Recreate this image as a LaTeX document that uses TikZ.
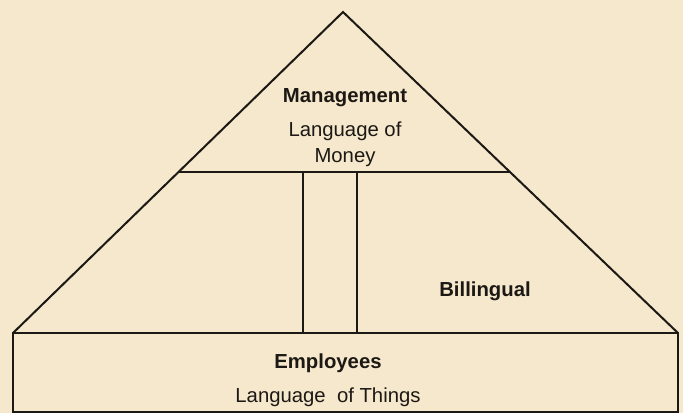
\documentclass[tikz,border=0pt]{standalone}
\usepackage{fontspec}
\setmainfont{Liberation Sans}
\usepackage{tikz}
\usetikzlibrary{calc}

\definecolor{paper}{RGB}{246,232,204}
\definecolor{ink}{RGB}{28,24,20}

\tikzset{
  wall/.style={draw=ink,line width=2pt,line join=miter},
  head/.style={text=ink,font=\fontsize{20.3}{26}\selectfont\bfseries,inner sep=0pt,anchor=base},
  lang/.style={text=ink,font=\fontsize{20.3}{26}\selectfont,inner sep=0pt,anchor=base}
}

\begin{document}
\begin{tikzpicture}[x=1pt,y=-1pt]
	% page
	\fill[paper] (0,0) rectangle (683,413);
	\useasboundingbox (0,0) rectangle (683,413);
	% corners of the pyramid and the base block
	\coordinate (top) at (343,12);
	\coordinate (bl) at (13,333);
	\coordinate (br) at (678,333);
	\coordinate (floor) at (678,412);
	\coordinate (ml) at ($(top)!0.498!(bl)$);
	\coordinate (mr) at ($(top)!0.498!(br)$);
	\coordinate (p1t) at (303,172);
	\coordinate (p1b) at (303,333);
	\coordinate (p2t) at (357,172);
	\coordinate (p2b) at (357,333);
	\draw[wall] (bl) -- (top) -- (br);
	\draw[wall] (bl) rectangle (floor);
	\draw[wall] (ml) -- (mr);
	\draw[wall] (p1t) -- (p1b);
	\draw[wall] (p2t) -- (p2b);
	% labels
	\node[head] (mgmt) at (345,102) {Management};
	\node[lang] (lang1) at (345,136) {Language of};
	\node[lang] (money) at (345,162) {Money};
	\node[head] (bili) at (485,296) {Billingual};
	\node[head] (empl) at (328,368) {Employees};
	\node[lang] (things) at (328,402) {Language\ \ of Things};
\end{tikzpicture}
\end{document}
